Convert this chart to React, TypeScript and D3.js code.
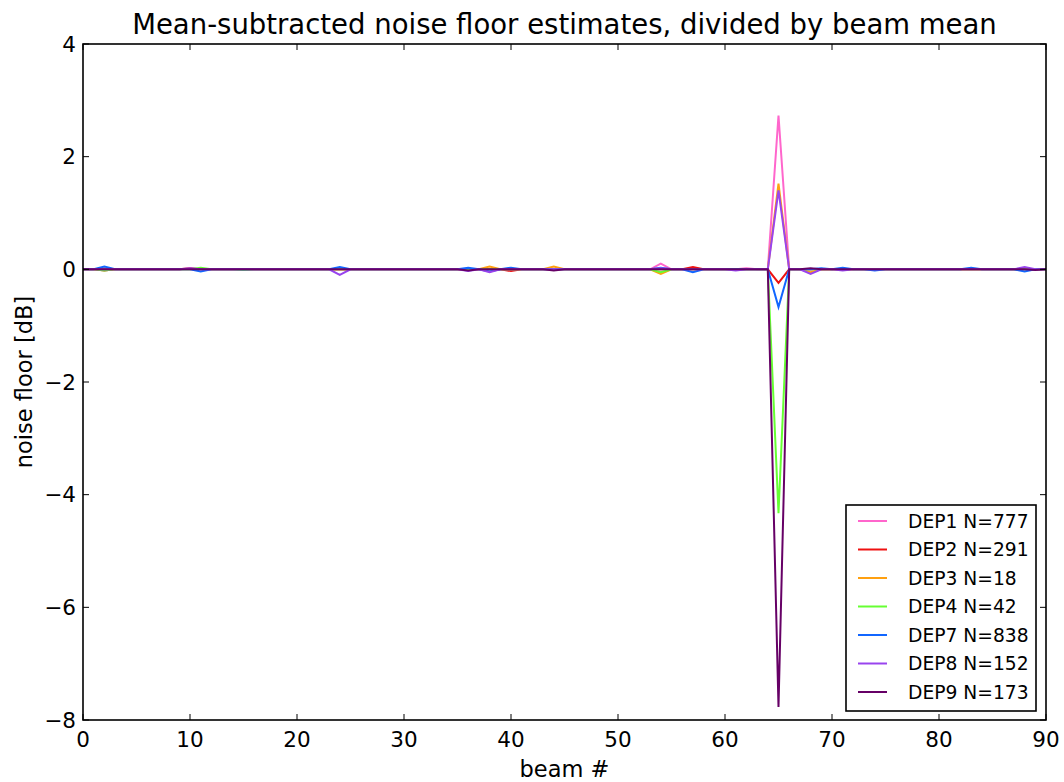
import React from "react";
import * as d3 from "d3";

const beams: number[] = d3.range(0, 91);

const seriesNames = ["DEP1 N=777", "DEP2 N=291", "DEP3 N=18", "DEP4 N=42", "DEP7 N=838", "DEP8 N=152", "DEP9 N=173"];
const seriesColors = ["#ff66cc", "#ee1111", "#ffa010", "#66ff33", "#1166ff", "#9944ee", "#660066"];

const dep1 = [
  0, 0, 0, 0, 0, 0, 0, 0, 0, 0,
  0.01, 0, 0, 0, 0, 0, 0, 0, 0, 0,
  0, 0, 0, 0, 0, 0, 0, 0, 0, 0,
  0, 0, 0, 0, 0, 0, 0, 0, 0, 0,
  0, 0, 0, 0, 0, 0, 0, 0, 0, 0,
  0, 0, 0, 0, 0.10, 0, 0, 0, 0, 0,
  0, 0, 0.02, 0, 0, 2.73, 0, 0, 0, 0,
  0, 0, 0, 0, 0, 0, 0, 0, 0, 0,
  0, 0, 0, 0, 0, 0, 0, 0, 0, 0,
  0,
];
const dep2 = [
  0, 0, -0.02, 0, 0, 0, 0, 0, 0, 0,
  0.02, 0, 0, 0, 0, 0, 0, 0, 0, 0,
  0, 0, 0, 0, 0, 0, 0, 0, 0, 0,
  0, 0, 0, 0, 0, 0, 0, 0, 0, 0,
  -0.03, 0, 0, 0, 0, 0, 0, 0, 0, 0,
  0, 0, 0, 0, 0, 0, 0, 0.04, 0, 0,
  0, 0, 0, 0, 0, -0.24, 0, 0, 0, 0,
  0, 0, 0, 0, 0, 0, 0, 0, 0, 0,
  0, 0, 0, 0, 0, 0, 0, 0, 0, 0,
  0,
];
const dep3 = [
  0, 0, 0.02, 0, 0, 0, 0, 0, 0, 0,
  0, 0, 0, 0, 0, 0, 0, 0, 0, 0,
  0, 0, 0, 0, 0, 0, 0, 0, 0, 0,
  0, 0, 0, 0, 0, 0, 0, 0, 0.05, 0,
  0, 0, 0, 0, 0.05, 0, 0, 0, 0, 0,
  0, 0, 0, 0, -0.08, 0, 0, 0, 0, 0,
  0, 0, 0, 0, 0, 1.52, 0, 0, -0.05, 0,
  0, 0, 0, 0, 0, 0, 0, 0, 0, 0,
  0, 0, 0, 0, 0, 0, 0, 0, 0, 0,
  0,
];
const dep4 = [
  0, 0, -0.02, 0, 0, 0, 0, 0, 0, 0,
  0, 0.03, 0, 0, 0, -0.01, 0, 0, 0, 0,
  0, 0, 0, 0, 0, 0, 0, 0, 0, 0,
  0, 0, 0, 0, 0, 0, 0, 0, 0, 0,
  0, 0, 0, 0, 0, 0, 0, 0, 0, 0,
  0, 0, 0, 0, -0.05, 0, 0, 0, 0, 0,
  0, 0, 0, 0, 0, -4.33, 0, 0, 0, 0,
  0, 0, 0, 0, 0, 0, 0, 0, 0, 0,
  0, 0, 0, 0, 0, 0, 0, 0, 0, 0,
  0,
];
const dep7 = [
  0, 0, 0.05, 0, 0, 0, 0, 0, 0, 0,
  0, -0.04, 0, 0, 0, 0, 0, 0, 0, 0,
  0, 0, 0, 0, 0.04, 0, 0, 0, 0, 0,
  0, 0, 0, 0, 0, 0, 0.03, 0, -0.04, 0,
  0.03, 0, 0, 0, 0, 0, 0, 0, 0, 0,
  0, 0, 0, 0, 0.03, 0, 0, -0.05, 0, 0,
  0, 0, 0, 0, 0, -0.67, 0, 0, 0, 0.02,
  0, 0.03, 0, 0, -0.02, 0, 0, 0, 0, 0,
  0, 0, 0, 0.03, 0, 0, 0, 0, -0.04, 0,
  0,
];
const dep8 = [
  0, 0, 0, 0, 0, 0, 0, 0, 0, 0,
  0.02, 0, 0, 0, 0, 0, 0, 0, 0, 0,
  0, 0, 0, 0, -0.10, 0, 0, 0, 0, 0,
  0, 0, 0, 0, 0, 0, -0.03, 0, -0.05, 0,
  0, 0, 0, 0, 0, 0, 0, 0, 0, 0,
  0, 0, 0, 0, 0.02, 0, 0, 0, 0, 0,
  0, -0.02, 0, 0, 0, 1.40, 0, 0, -0.08, 0,
  0, -0.02, 0, 0, 0, 0, 0, 0, 0, 0,
  0, 0, 0, 0, 0, 0, 0, 0, 0.04, 0,
  0,
];
const dep9 = [
  0, 0, 0, 0, 0, 0, 0, 0, 0, 0,
  0, 0, 0, 0, 0, 0, 0, 0, 0, 0,
  0, 0, 0, 0, 0, 0, 0, 0, 0, 0,
  0, 0, 0, 0, 0, 0, -0.02, 0, 0, 0,
  0, 0, 0, 0, -0.02, 0, 0, 0, 0, 0,
  0, 0, 0, 0, 0, 0, 0, 0, 0, 0,
  0, 0, 0, 0, 0, -7.77, 0, 0, 0.02, 0,
  0, 0, 0, 0, 0, 0, 0, 0, 0, 0,
  0, 0, 0, 0, 0, 0, 0, 0, 0, -0.01,
  0,
];

const seriesValues = [dep1, dep2, dep3, dep4, dep7, dep8, dep9];

const xTicks = [0, 10, 20, 30, 40, 50, 60, 70, 80, 90];
const yTicks = [4, 2, 0, -2, -4, -6, -8];

const W = 1064;
const H = 782;
const left = 83;
const right = 1046;
const top = 44;
const bottom = 720;
const FONT = "DejaVu Sans, sans-serif";

export default function App() {
  const x = d3.scaleLinear().domain([0, 90]).range([left, right]);
  const y = d3.scaleLinear().domain([-8, 4]).range([bottom, top]);
  const line = d3
    .line<number>()
    .x((_, i) => x(beams[i]))
    .y((d) => y(d));

  const tickLen = 6;
  const fmt = (v: number) => (v < 0 ? "\u2212" + Math.abs(v) : String(v));

  const legX = 846;
  const legY = 505;
  const rowH = 28.5;

  return (
    <svg width={W} height={H} style={{ position: "absolute", left: 0, top: 0, background: "#fff" }} fontFamily={FONT}>
      <rect x={0} y={0} width={W} height={H} fill="#fff" />
      <text x={(left + right) / 2} y={34} textAnchor="middle" fontSize={27.5} fill="#000">
        Mean-subtracted noise floor estimates, divided by beam mean
      </text>

      {seriesValues.map((vals, i) => (
        <path key={i} d={line(vals) || ""} fill="none" stroke={seriesColors[i]} strokeWidth={2} strokeLinejoin="miter" />
      ))}

      {xTicks.map((t) => (
        <g key={"x" + t}>
          <line x1={x(t)} x2={x(t)} y1={bottom} y2={bottom - tickLen} stroke="#000" strokeWidth={1} />
          <line x1={x(t)} x2={x(t)} y1={top} y2={top + tickLen} stroke="#000" strokeWidth={1} />
          <text x={x(t)} y={747} textAnchor="middle" fontSize={21.5} fill="#000">
            {fmt(t)}
          </text>
        </g>
      ))}
      {yTicks.map((t) => (
        <g key={"y" + t}>
          <line x1={left} x2={left + tickLen} y1={y(t)} y2={y(t)} stroke="#000" strokeWidth={1} />
          <line x1={right} x2={right - tickLen} y1={y(t)} y2={y(t)} stroke="#000" strokeWidth={1} />
          <text x={76} y={y(t)} dy="0.36em" textAnchor="end" fontSize={21.5} fill="#000">
            {fmt(t)}
          </text>
        </g>
      ))}

      <rect x={left} y={top} width={right - left} height={bottom - top} fill="none" stroke="#000" strokeWidth={1.6} />

      <text x={(left + right) / 2} y={777} textAnchor="middle" fontSize={22.5} fill="#000">
        beam #
      </text>
      <text transform={`translate(32,${(top + bottom) / 2}) rotate(-90)`} textAnchor="middle" fontSize={22.5} fill="#000">
        noise floor [dB]
      </text>

      <rect x={legX} y={legY} width={190} height={206} fill="#fff" stroke="#000" strokeWidth={1.6} />
      {seriesNames.map((name, i) => {
        const cy = legY + 16 + i * rowH;
        return (
          <g key={name}>
            <line x1={858} x2={887} y1={cy} y2={cy} stroke={seriesColors[i]} strokeWidth={2} />
            <text x={908} y={cy} dy="0.36em" fontSize={18.7} fill="#000">
              {name}
            </text>
          </g>
        );
      })}
    </svg>
  );
}
